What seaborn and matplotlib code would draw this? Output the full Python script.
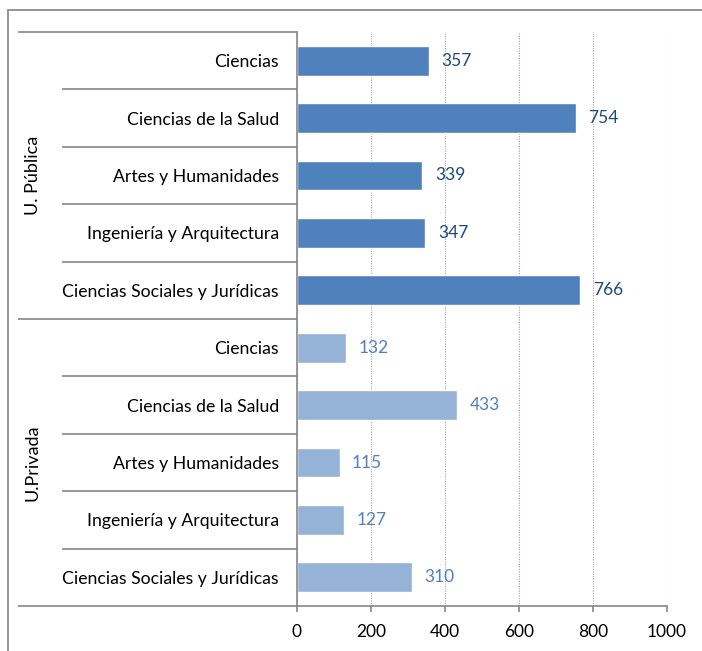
import matplotlib
matplotlib.use("Agg")
import matplotlib.pyplot as plt
import matplotlib.transforms as mtransforms
from matplotlib.patches import Rectangle
import seaborn as sns
import pandas as pd

# Data
groups = ["U. Pública", "U.Privada"]
branches = [
    "Ciencias",
    "Ciencias de la Salud",
    "Artes y Humanidades",
    "Ingeniería y Arquitectura",
    "Ciencias Sociales y Jurídicas",
]
publica = [357, 754, 339, 347, 766]
privada = [132, 433, 115, 127, 310]
x_ticks = [0, 200, 400, 600, 800, 1000]

rows = []
for g, vals in zip(groups, [publica, privada]):
    for b, v in zip(branches, vals):
        rows.append({"key": f"{g} | {b}", "branch": b, "group": g, "value": v})
df = pd.DataFrame(rows)

sns.set_theme(style="white")
plt.rcParams["font.family"] = ["Lato", "DejaVu Sans"]

W, H = 702, 651
fig = plt.figure(figsize=(W / 100, H / 100), dpi=100)
ax = fig.add_axes([297 / W, 1 - 606 / H, (667 - 297) / W, (606 - 32) / H])

bar_colors = {"U. Pública": "#4F81BD", "U.Privada": "#95B3D7"}
label_colors = {"U. Pública": "#1F497D", "U.Privada": "#4F81BD"}

sns.barplot(data=df, x="value", y="key", hue="group", palette=bar_colors,
            dodge=False, width=0.52, ax=ax, legend=False, saturation=1)

for cont, g in zip(ax.containers, groups):
    ax.bar_label(cont, labels=[f"{v:.0f}" for v in cont.datavalues], padding=9,
                 color=label_colors[g], fontsize=12.5)

ax.set_xlim(0, 1000)
ax.set_ylim(len(df) - 0.5, -0.5)
ax.set_xticks(x_ticks)
ax.set_xticklabels([str(t) for t in x_ticks], fontsize=12.5, color="#000000")
ax.set_yticks(range(len(df)))
ax.set_yticklabels(df["branch"], fontsize=12.7, color="#000000")
ax.set_xlabel("")
ax.set_ylabel("")

grid_c = "#868686"
ax.xaxis.grid(True, linestyle=(0, (1, 1.2)), color="#a6a6a6", linewidth=0.8)
ax.yaxis.grid(False)
ax.set_axisbelow(True)
for s in ["top", "right"]:
    ax.spines[s].set_visible(False)
for s in ["left", "bottom"]:
    ax.spines[s].set_color(grid_c)
    ax.spines[s].set_linewidth(1.2)
ax.tick_params(axis="x", bottom=True, length=4, width=1.2, color=grid_c, pad=9)
ax.tick_params(axis="y", left=False, length=0, pad=13)

# category separators extending into the label area
trans = mtransforms.blended_transform_factory(ax.transAxes, ax.transData)
inner_x = (62 - 297) / 370
outer_x = (18 - 297) / 370
n = len(df)
for i in range(n + 1):
    yb = i - 0.5
    x0 = outer_x if i in (0, 5, n) else inner_x
    ax.plot([x0, 0], [yb, yb], color=grid_c, linewidth=1.2, transform=trans,
            clip_on=False, solid_capstyle="butt")

# group labels
for gi, g in enumerate(groups):
    yc = gi * 5 + 2
    ax.text((33 - 297) / 370, yc, g, transform=trans, rotation=90,
            ha="center", va="center", fontsize=13, color="#000000")

# outer chart frame
fig.patches.append(Rectangle((8 / W, -0.1), 1.2, 1 - 10 / H + 0.1,
                             transform=fig.transFigure, fill=False,
                             edgecolor="#8c8c8c", linewidth=1.3))

fig.savefig("out.png", dpi=100)
